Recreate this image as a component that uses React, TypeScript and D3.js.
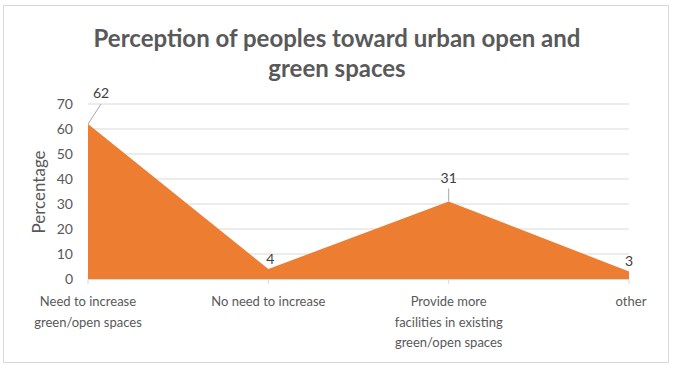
import React from "react";
import * as d3 from "d3";

const categories: string[][] = [
  ["Need to increase", "green/open spaces"],
  ["No need to increase"],
  ["Provide more", "facilities in existing", "green/open spaces"],
  ["other"],
];
const values: number[] = [62, 4, 31, 3];
const yTicks: number[] = [0, 10, 20, 30, 40, 50, 60, 70];
const titleLines: string[] = ["Perception of peoples toward urban open and", "green spaces"];
const yAxisTitle = "Percentage";

const W = 675;
const H = 377;
const FONT = "Lato, 'Open Sans', sans-serif";
const TEXT = "#595959";

export default function App() {
  const idx = categories.map((_, i) => i);
  const x = d3.scalePoint<number>().domain(idx).range([88, 629]);
  const y = d3.scaleLinear().domain([0, 70]).range([279, 104]);
  const area = d3
    .area<number>()
    .x((_, i) => x(i)!)
    .y0(y(0))
    .y1((d) => y(d));

  const labelPos = [
    { dx: 13, dy: -31, leader: true },
    { dx: 2, dy: -10, leader: false },
    { dx: 0, dy: -24, leader: true },
    { dx: 0, dy: -11, leader: false },
  ];

  return (
    <svg
      width={W}
      height={H}
      style={{ position: "absolute", left: 0, top: 0, background: "#fff" }}
    >
      <rect x={3.5} y={5.5} width={665} height={357} fill="#fff" stroke="#d9d9d9" strokeWidth={1} />
      {titleLines.map((t, i) => (
        <text
          key={i}
          x={337}
          y={47 + i * 30}
          textAnchor="middle"
          fontFamily={FONT}
          fontWeight="bold"
          fontSize={24}
          fill={TEXT}
        >
          {t}
        </text>
      ))}
      {yTicks.map((t) => (
        <g key={t}>
          {t > 0 && (
            <line x1={88} x2={629} y1={y(t)} y2={y(t)} stroke="#d9d9d9" strokeWidth={1} />
          )}
          <text
            x={73}
            y={y(t) + 5}
            textAnchor="end"
            fontFamily={FONT}
            fontSize={14}
            fill={TEXT}
          >
            {t}
          </text>
        </g>
      ))}
      <path d={area(values)!} fill="#ED7D31" />
      <line x1={88} x2={629} y1={y(0) + 0.5} y2={y(0) + 0.5} stroke="#d9d9d9" strokeWidth={1} />
      {idx.map((i) => (
        <line key={i} x1={x(i)!} x2={x(i)!} y1={y(0)} y2={y(0) + 5} stroke="#d9d9d9" strokeWidth={1} />
      ))}
      {values.map((v, i) => {
        const p = labelPos[i];
        const px = x(i)!;
        const py = y(v);
        return (
          <g key={i}>
            {p.leader && (
              <line
                x1={px}
                y1={py}
                x2={px + (p.dx > 0 ? p.dx : 0)}
                y2={py + p.dy + 11}
                stroke="#a6a6a6"
                strokeWidth={1}
              />
            )}
            <text
              x={px + p.dx}
              y={py + p.dy + 5}
              textAnchor="middle"
              fontFamily={FONT}
              fontSize={14}
              fill="#404040"
            >
              {v}
            </text>
          </g>
        );
      })}
      {categories.map((lines, i) => (
        <text
          key={i}
          textAnchor="middle"
          fontFamily={FONT}
          fontSize={13}
          fill={TEXT}
        >
          {lines.map((l, j) => (
            <tspan key={j} x={x(i)! + (i === 3 ? 2 : 0)} y={306 + j * 20.5}>
              {l}
            </tspan>
          ))}
        </text>
      ))}
      <text
        transform={`translate(45, 192) rotate(-90)`}
        textAnchor="middle"
        fontFamily={FONT}
        fontSize={17}
        fill={TEXT}
      >
        {yAxisTitle}
      </text>
    </svg>
  );
}
